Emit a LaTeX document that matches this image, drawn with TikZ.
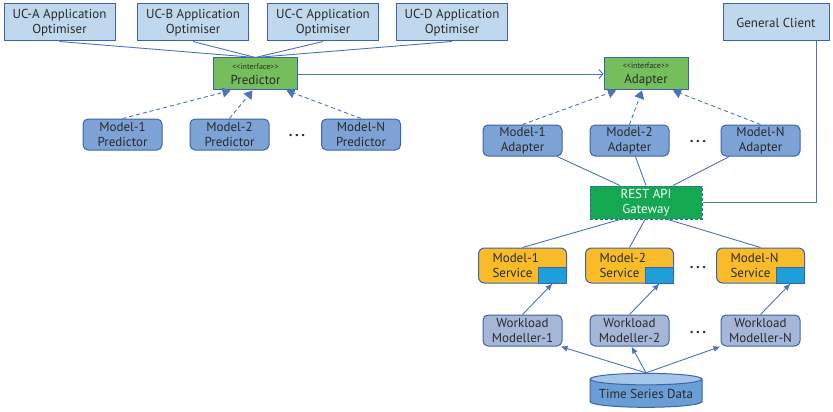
\documentclass[tikz,border=0pt]{standalone}
\usepackage{fontspec}
\setmainfont{PT Sans}
\usepackage{xcolor}
\usetikzlibrary{arrows.meta}
\usetikzlibrary{shapes.geometric}
\definecolor{edgeblue}{HTML}{3E64A8}
\definecolor{lineblue}{HTML}{4A72BE}
\definecolor{paleblue}{HTML}{C0D8EE}
\definecolor{modelblue}{HTML}{7CA2D6}
\definecolor{greyblue}{HTML}{A6B6D8}
\definecolor{svorange}{HTML}{F9BC28}
\definecolor{sqblue}{HTML}{1E9FDA}
\definecolor{ifgreen}{HTML}{74BE5C}
\definecolor{gwgreen}{HTML}{14A950}
\definecolor{cylbody}{HTML}{6A9ED6}
\definecolor{cyltop}{HTML}{A4C6EA}
\definecolor{textgray}{HTML}{2A2A2A}
\tikzset{every node/.style={text=textgray, align=center},
 ucbox/.style={draw=edgeblue, line width=1pt, fill=paleblue, minimum width=111pt, minimum height=37pt, inner sep=1pt},
 ifbox/.style={draw=edgeblue, line width=1pt, fill=ifgreen, minimum width=84pt, minimum height=32pt, inner sep=1pt},
 modelbox/.style={draw=edgeblue, line width=1pt, fill=modelblue, rounded corners=5pt, minimum width=79pt, minimum height=31pt, inner sep=1pt},
 wmbox/.style={modelbox, fill=greyblue},
 svbox/.style={draw=edgeblue, line width=1pt, fill=svorange, rounded corners=6pt, minimum height=35pt, text width=60pt, inner xsep=14pt, inner ysep=1pt, align=left},
 sqbox/.style={draw=edgeblue, line width=1pt, fill=sqblue, minimum width=28pt, minimum height=16pt, inner sep=0pt},
 gwbox/.style={draw=edgeblue, line width=1pt, dash pattern=on 3pt off 2pt, fill=gwgreen, text=white, minimum width=112pt, minimum height=33pt, inner sep=1pt},
 dbbox/.style={cylinder, shape border rotate=90, aspect=0.12, draw=edgeblue, line width=1pt, cylinder uses custom fill, cylinder body fill=cylbody, cylinder end fill=cyltop, minimum width=112pt, minimum height=34pt, inner sep=1pt},
 link/.style={draw=lineblue, line width=0.9pt},
 impl/.style={draw=lineblue, line width=0.9pt, dash pattern=on 4pt off 3pt, -{Triangle[length=8pt, width=10pt]}},
 flow/.style={draw=lineblue, line width=0.9pt, -{Latex[length=7pt, width=6pt]}},
 dotsnode/.style={font=\fontsize{15}{15}\selectfont\bfseries},
}
\newcommand{\stereo}[1]{{\fontsize{8}{9}\selectfont {<}{<}interface{>}{>}}\\#1}

\begin{document}
\begin{tikzpicture}[x=1pt, y=-1pt, font=\fontsize{13}{15}\selectfont]
\useasboundingbox (0,0) rectangle (833,412);

% interfaces
\node[ifbox] (pred) at (255.5,74) {\stereo{Predictor}};
\node[ifbox] (adapt) at (646,74) {\stereo{Adapter}};
\draw[link, -{Straight Barb[length=4pt, width=9pt]}] (pred.east) -- (adapt.west);

% application optimisers
\foreach \n/\x in {A/59.5, B/193, C/323, D/452} {
    \node[ucbox] (uc\n) at (\x,22.5) {UC-\n{} Application\\Optimiser};
    \draw[link] (uc\n.south) -- (pred.north);
}
\node[ucbox, minimum width=106pt] (client) at (776,22.5) {General Client};

% predictors
\foreach \n/\x/\s in {1/122.5/-25, 2/229.5/-3, N/361/31} {
    \node[modelbox] (mp\n) at (\x,134.5) {Model-\n\\Predictor};
    \draw[impl] (mp\n.north) -- ([xshift=\s pt]pred.south);
}
\node[dotsnode] (pdots) at (297,136) {.\,.\,.};

% gateway
\node[gwbox] (gw) at (646,202.5) {REST API\\Gateway};
\draw[link] ([xshift=40pt]client.south) |- (gw.east);

% adapters
\foreach \n/\x/\s/\t in {1/522.5/-30/-26, 2/629.5/-4/0, N/760.5/27/27} {
    \node[modelbox] (ma\n) at (\x,140.5) {Model-\n\\Adapter};
    \draw[impl] (ma\n.north) -- ([xshift=\s pt]adapt.south);
    \draw[link] (ma\n) -- ([xshift=\t pt]gw.north);
}
\node[dotsnode] (adots) at (698,142) {.\,.\,.};

% services and workload modellers
\node[dbbox] (tsd) at (646,394) {Time Series Data};
\foreach \n/\x/\s in {1/522.5/-26, 2/629.5/-1, N/760.5/22} {
    \node[svbox] (sv\n) at (\x,265.5) {Model-\n\\Service};
    \node[sqbox, anchor=south east] (sq\n) at (sv\n.south east) {};
    \draw[link] ([xshift=\s pt]gw.south) -- (sv\n.north);
    \node[wmbox] (wm\n) at (\x,330.5) {Workload\\Modeller-\n};
    \draw[flow] (wm\n.north) -- (sq\n.south);
}
\draw[flow] (tsd.top) -- ([xshift=-2pt]wm1.south east);
\draw[flow] (tsd.top) -- ([xshift=2pt]wm2.south);
\draw[flow] (tsd.top) -- (wmN.south west);
\node[dotsnode] (sdots) at (698,268) {.\,.\,.};
\node[dotsnode] (wdots) at (698,333) {.\,.\,.};
\end{tikzpicture}
\end{document}
